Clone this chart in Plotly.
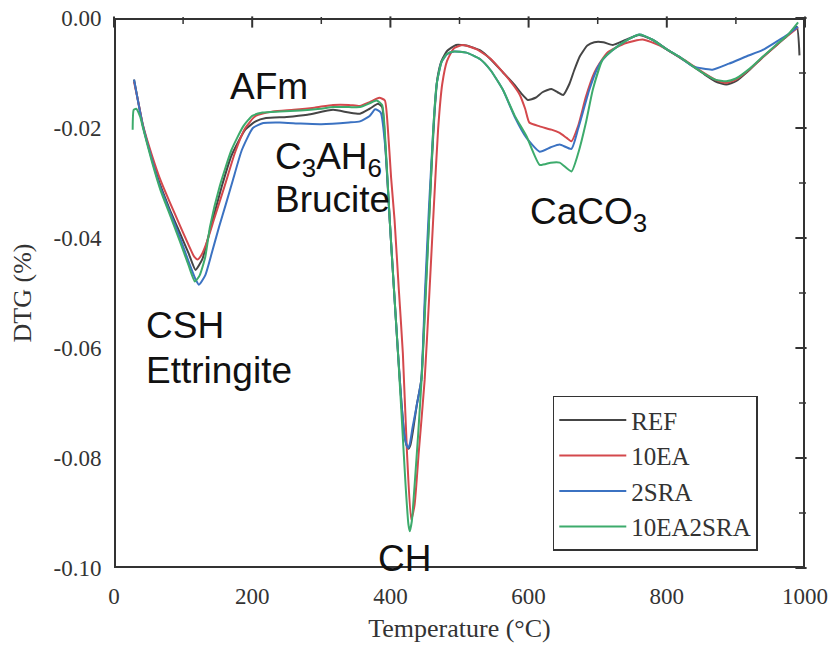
import plotly.graph_objects as go

# ---------------- data ----------------
temp_ref = [29, 35, 42, 55, 67, 80, 95, 108, 118, 128, 140, 156, 170, 190, 205, 220, 250, 280, 317, 340,
            356, 370, 382, 388, 393, 399, 405, 411, 416, 420, 423.5, 426, 429, 433, 438, 444.7, 450, 455, 460, 464,
            468, 474, 482, 495, 510, 530, 545, 563, 580, 590, 599, 610, 620, 633, 642, 650, 659, 666, 674, 685,
            695, 708, 722, 740, 760, 780, 800, 820, 838, 855, 870, 886, 900, 920, 940, 960, 975, 988, 992]
dtg_ref = [-0.0112, -0.0152, -0.0197, -0.0256, -0.0304, -0.0346, -0.0390, -0.0428, -0.0458, -0.0438,
           -0.0380, -0.0306, -0.0250, -0.0203, -0.0188, -0.0182, -0.0180, -0.0176, -0.0167, -0.0172,
           -0.0174, -0.0165, -0.0156, -0.0162, -0.0240, -0.0367, -0.0490, -0.0609, -0.0700, -0.0755,
           -0.0777, -0.0783, -0.0776, -0.0748, -0.0705, -0.0658, -0.0520, -0.0390, -0.0260, -0.0170,
           -0.0110, -0.0078, -0.0060, -0.0049, -0.0050, -0.0059, -0.0075, -0.0099, -0.0122, -0.0138,
           -0.0149, -0.0145, -0.0135, -0.0129, -0.0135, -0.0140, -0.0120, -0.0095, -0.0070, -0.0050,
           -0.0044, -0.0044, -0.0049, -0.0040, -0.0031, -0.0040, -0.0057, -0.0073, -0.0088, -0.0103,
           -0.0115, -0.0121, -0.0115, -0.0094, -0.0070, -0.0048, -0.0032, -0.0016, -0.0068]

temp_ea = [29, 35, 42, 55, 67, 80, 95, 108, 116, 121, 127, 135, 145, 160, 175, 190, 205, 230, 260, 290,
           317, 340, 356, 370, 384, 392, 396, 401, 406, 412, 418, 424, 430, 435, 441, 449.6, 456, 463, 469, 475,
           482, 492, 505, 525, 545, 563, 578, 587, 595, 601, 616, 633, 645, 655, 662, 672, 683, 695, 703, 715,
           740, 765, 790, 810, 830, 850, 870, 886, 900, 920, 940, 960, 975, 990]
dtg_ea = [-0.0116, -0.0152, -0.0195, -0.0250, -0.0294, -0.0333, -0.0376, -0.0413, -0.0434, -0.0439,
          -0.0430, -0.0405, -0.0365, -0.0306, -0.0245, -0.0200, -0.0178, -0.0170, -0.0167, -0.0163,
          -0.0158, -0.0158, -0.0160, -0.0153, -0.0145, -0.0150, -0.0195, -0.0290, -0.0367, -0.0490,
          -0.0609, -0.0790, -0.0912, -0.0885, -0.0790, -0.0658, -0.0510, -0.0340, -0.0203, -0.0120,
          -0.0078, -0.0055, -0.0049, -0.0057, -0.0074, -0.0099, -0.0122, -0.0139, -0.0165, -0.0190,
          -0.0197, -0.0203, -0.0209, -0.0218, -0.0224, -0.0195, -0.0143, -0.0100, -0.0082, -0.0062,
          -0.0046, -0.0039, -0.0050, -0.0065, -0.0080, -0.0097, -0.0112, -0.0118, -0.0112, -0.0093,
          -0.0070, -0.0048, -0.0032, -0.0017]

temp_sra = [29, 35, 42, 55, 67, 80, 95, 108, 118, 123, 132, 142, 152, 162, 172, 185, 201, 216, 240, 270,
            300, 340, 356, 370, 378, 386, 393, 399, 405, 411, 416, 420, 423.5, 425.5, 428, 432, 438, 444.7, 450, 456,
            462, 467, 474, 482, 492, 510, 530, 545, 563, 580, 597, 616, 632, 645, 662, 672, 688, 700, 707, 720,
            740, 760, 780, 800, 820, 838, 866, 890, 915, 939, 960, 975, 990]
dtg_sra = [-0.0112, -0.0153, -0.0197, -0.0258, -0.0308, -0.0350, -0.0398, -0.0443, -0.0475, -0.0485,
           -0.0468, -0.0425, -0.0380, -0.0338, -0.0295, -0.0240, -0.0200, -0.0191, -0.0190, -0.0192,
           -0.0193, -0.0190, -0.0188, -0.0178, -0.0166, -0.0172, -0.0240, -0.0367, -0.0490, -0.0609,
           -0.0700, -0.0755, -0.0777, -0.0782, -0.0775, -0.0745, -0.0705, -0.0658, -0.0500, -0.0340,
           -0.0203, -0.0120, -0.0080, -0.0066, -0.0061, -0.0063, -0.0075, -0.0095, -0.0131, -0.0180,
           -0.0218, -0.0243, -0.0235, -0.0230, -0.0238, -0.0200, -0.0130, -0.0090, -0.0076, -0.0060,
           -0.0042, -0.0030, -0.0040, -0.0057, -0.0072, -0.0088, -0.0094, -0.0083, -0.0070, -0.0058,
           -0.0042, -0.0030, -0.0016]

temp_mix = [27, 28.5, 32, 38, 42, 55, 67, 80, 95, 108, 117, 124, 132, 139, 153, 170, 187, 200, 215, 240,
            270, 300, 317, 340, 356, 370, 380, 388, 393, 399, 405, 411, 417, 422, 426, 428, 431, 435, 440, 446,
            452, 457, 462, 467, 474, 482, 492, 510, 530, 545, 563, 580, 597, 616, 632, 645, 662, 672, 683, 693,
            707, 720, 740, 760, 780, 800, 820, 838, 855, 870, 886, 900, 920, 940, 960, 975, 990]
dtg_mix = [-0.0203, -0.0167, -0.0165, -0.0180, -0.0200, -0.0262, -0.0312, -0.0355, -0.0405, -0.0450,
           -0.0479, -0.0468, -0.0435, -0.0379, -0.0306, -0.0240, -0.0197, -0.0178, -0.0172, -0.0170,
           -0.0168, -0.0165, -0.0162, -0.0162, -0.0162, -0.0155, -0.0150, -0.0158, -0.0230, -0.0367,
           -0.0490, -0.0609, -0.0740, -0.0850, -0.0920, -0.0933, -0.0915, -0.0850, -0.0760, -0.0640,
           -0.0480, -0.0340, -0.0203, -0.0120, -0.0080, -0.0065, -0.0061, -0.0063, -0.0075, -0.0095,
           -0.0131, -0.0178, -0.0215, -0.0267, -0.0263, -0.0263, -0.0279, -0.0245, -0.0190, -0.0130,
           -0.0076, -0.0060, -0.0042, -0.0030, -0.0040, -0.0057, -0.0072, -0.0088, -0.0102, -0.0112,
           -0.0115, -0.0110, -0.0092, -0.0069, -0.0047, -0.0031, -0.0008]

series_names = ["REF", "10EA", "2SRA", "10EA2SRA"]
series_colors = ["#454545", "#d4484c", "#3b72c2", "#3dab6c"]

# ticks: every 100 degC / every 0.01, labelled at every second one
x_tick_vals = [0, 100, 200, 300, 400, 500, 600, 700, 800, 900, 1000]
x_tick_text = ["0", "", "200", "", "400", "", "600", "", "800", "", "1000"]
y_tick_vals = [-0.10, -0.09, -0.08, -0.07, -0.06, -0.05, -0.04, -0.03, -0.02, -0.01, 0.00]
y_tick_text = ["-0.10", "", "-0.08", "", "-0.06", "", "-0.04", "", "-0.02", "", "0.00"]

# peak labels
label_text = ["AFm", "C<sub>3</sub>AH<sub>6</sub>", "Brucite", "CaCO<sub>3</sub>", "CSH", "Ettringite", "CH"]
label_temp = [225, 230, 230, 686, 43, 43, 420]
label_dtg = [-0.0124, -0.0256, -0.0330, -0.0357, -0.0559, -0.0641, -0.0983]
label_anchor = ["center", "left", "left", "center", "left", "left", "center"]

# ---------------- figure ----------------
W, H = 831, 660
ML, MR, MT, MB = 114, 26, 18, 92
PW, PH = W - ML - MR, H - MT - MB

serif = "Liberation Serif, Times New Roman, serif"
sans = "Liberation Sans, Arial, sans-serif"
axis_col = "#333333"

x_lo, x_hi = x_tick_vals[0], x_tick_vals[-1]
y_lo, y_hi = y_tick_vals[0], y_tick_vals[-1]
x_per_px = (x_hi - x_lo) / PW
y_per_px = (y_hi - y_lo) / PH

fig = go.Figure()
for name, col, xs, ys in zip(series_names, series_colors,
                             [temp_ref, temp_ea, temp_sra, temp_mix],
                             [dtg_ref, dtg_ea, dtg_sra, dtg_mix]):
    fig.add_trace(go.Scatter(x=xs, y=ys, mode="lines", name=name,
                             line=dict(color=col, width=2, shape="spline", smoothing=0.5)))

# plot frame (drawn through the axes' own scales)
fig.add_trace(go.Scatter(x=[x_lo, x_hi, x_hi, x_lo, x_lo], y=[y_lo, y_lo, y_hi, y_hi, y_lo],
                         mode="lines", line=dict(color=axis_col, width=4), showlegend=False,
                         hoverinfo="skip", cliponaxis=False))

# tick marks as line-markers: outside on bottom/left, inside on top/right
for major in (True, False):
    ln = 8 if major else 5
    wd = 2 if major else 1.5
    xs_t = [v for v, t in zip(x_tick_vals, x_tick_text) if bool(t) == major]
    ys_t = [v for v, t in zip(y_tick_vals, y_tick_text) if bool(t) == major]
    half_y = ln / 2 * y_per_px
    half_x = ln / 2 * x_per_px
    fig.add_trace(go.Scatter(
        x=xs_t + xs_t, y=[y_lo - half_y] * len(xs_t) + [y_hi - half_y] * len(xs_t),
        mode="markers", marker=dict(symbol="line-ns-open", size=ln, color=axis_col,
                                    line=dict(width=wd, color=axis_col)),
        showlegend=False, hoverinfo="skip", cliponaxis=False))
    fig.add_trace(go.Scatter(
        x=[x_lo - half_x] * len(ys_t) + [x_hi - half_x] * len(ys_t), y=ys_t + ys_t,
        mode="markers", marker=dict(symbol="line-ew-open", size=ln, color=axis_col,
                                    line=dict(width=wd, color=axis_col)),
        showlegend=False, hoverinfo="skip", cliponaxis=False))

for t, tx, ty, anc in zip(label_text, label_temp, label_dtg, label_anchor):
    fig.add_annotation(x=tx, y=ty, text=t, showarrow=False, xanchor=anc, yanchor="middle",
                       font=dict(family=sans, size=37, color="#111111"))

axis_common = dict(showgrid=False, zeroline=False, showline=False,
                   ticks="outside", ticklen=7, tickcolor="rgba(0,0,0,0)", automargin=False,
                   tickfont=dict(family=serif, size=23, color=axis_col))

fig.update_layout(
    width=W, height=H,
    margin=dict(l=ML, r=MR, t=MT, b=MB),
    paper_bgcolor="white", plot_bgcolor="white",
    xaxis=dict(range=[x_lo, x_hi], tickmode="array", tickvals=x_tick_vals, ticktext=x_tick_text,
               title=dict(text="Temperature (°C)", font=dict(family=serif, size=26, color=axis_col),
                          standoff=11),
               **axis_common),
    yaxis=dict(range=[y_lo, y_hi], tickmode="array", tickvals=y_tick_vals, ticktext=y_tick_text,
               title=dict(text="DTG (%)", font=dict(family=serif, size=26, color=axis_col), standoff=14),
               **axis_common),
    legend=dict(x=0.635, y=0.313, xanchor="left", yanchor="top",
                bgcolor="white", bordercolor=axis_col, borderwidth=1.5,
                font=dict(family=serif, size=25, color=axis_col),
                itemwidth=67, entrywidth=219, entrywidthmode="pixels"),
    showlegend=True,
)

fig.write_html("out.html")
